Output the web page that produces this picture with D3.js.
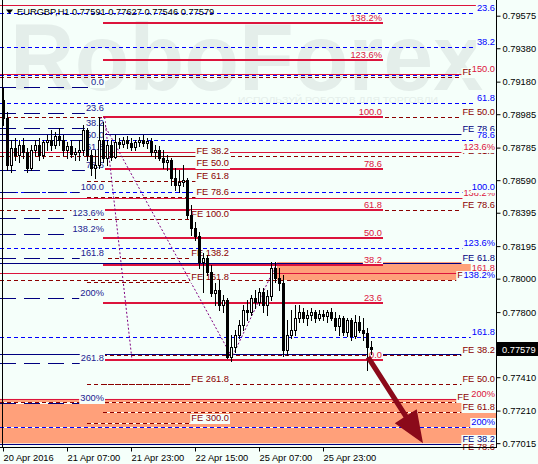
<!DOCTYPE html>
<html><head><meta charset="utf-8">
<script src="https://cdn.jsdelivr.net/npm/d3@7"></script>
<style>
html,body{margin:0;padding:0;background:#f5fffa;}
svg{display:block;}
text{font-family:"Liberation Sans",Arial,sans-serif;}
</style></head><body>
<svg id="c" width="538" height="464"></svg>
<script>
// ---------------- DATA ----------------
const symbol = "EURGBP,H1";
const lastBar = ["0.77591","0.77627","0.77546","0.77579"];
const lastPrice = 0.77579;
const xTickIdx = [0,16,32,48,64,80];
const xTickLabels = ["20 Apr 2016","21 Apr 07:00","21 Apr 23:00","22 Apr 15:00","25 Apr 07:00","25 Apr 23:00"];
const yTickLabels = ["0.79575","0.79380","0.79180","0.78985","0.78785","0.78590","0.78395","0.78195","0.78000","0.77800","0.77605","0.77410","0.77210","0.77015"];

// H1 candles [open, high, low, close]
const candles = [
[0.79072,0.79144,0.78922,0.78964],[0.78964,0.79000,0.78652,0.78682],[0.78682,0.78832,0.78640,0.78784],
[0.78784,0.78844,0.78712,0.78742],[0.78742,0.78832,0.78700,0.78802],[0.78802,0.78844,0.78724,0.78760],
[0.78760,0.78784,0.78640,0.78664],[0.78664,0.78802,0.78652,0.78772],[0.78772,0.78832,0.78742,0.78802],
[0.78802,0.78844,0.78712,0.78742],[0.78742,0.78832,0.78724,0.78820],[0.78820,0.78862,0.78772,0.78832],
[0.78832,0.78892,0.78772,0.78802],[0.78802,0.78880,0.78784,0.78856],[0.78856,0.78904,0.78802,0.78832],
[0.78832,0.78862,0.78742,0.78772],[0.78772,0.78820,0.78724,0.78796],[0.78796,0.78832,0.78730,0.78748],
[0.78748,0.78784,0.78712,0.78760],[0.78760,0.78832,0.78712,0.78772],[0.78772,0.78922,0.78742,0.78892],
[0.78892,0.78904,0.78712,0.78742],[0.78742,0.78772,0.78622,0.78664],[0.78664,0.78772,0.78604,0.78682],
[0.78682,0.78970,0.78664,0.78832],[0.78832,0.78940,0.78700,0.78724],[0.78724,0.78832,0.78682,0.78802],
[0.78802,0.78832,0.78712,0.78730],[0.78730,0.78862,0.78724,0.78820],[0.78820,0.78844,0.78784,0.78808],
[0.78808,0.78850,0.78790,0.78832],[0.78832,0.78856,0.78784,0.78814],[0.78814,0.78844,0.78772,0.78790],
[0.78790,0.78832,0.78772,0.78820],[0.78820,0.78850,0.78796,0.78832],[0.78832,0.78862,0.78796,0.78814],
[0.78814,0.78844,0.78784,0.78826],[0.78826,0.78844,0.78742,0.78760],[0.78760,0.78802,0.78724,0.78772],
[0.78772,0.78796,0.78712,0.78724],[0.78724,0.78772,0.78664,0.78700],[0.78700,0.78742,0.78652,0.78712],
[0.78712,0.78724,0.78562,0.78604],[0.78604,0.78664,0.78532,0.78562],[0.78562,0.78652,0.78520,0.78580],
[0.78580,0.78682,0.78556,0.78592],[0.78592,0.78604,0.78364,0.78382],[0.78382,0.78442,0.78262,0.78304],
[0.78304,0.78340,0.78232,0.78256],[0.78256,0.78280,0.78064,0.78100],[0.78100,0.78154,0.77920,0.78124],
[0.78124,0.78142,0.78022,0.78040],[0.78040,0.78082,0.77896,0.77914],[0.77914,0.77974,0.77842,0.77932],
[0.77932,0.77992,0.77812,0.77842],[0.77842,0.77902,0.77800,0.77872],[0.77872,0.77884,0.77524,0.77530],
[0.77530,0.77662,0.77506,0.77590],[0.77590,0.77692,0.77560,0.77662],[0.77662,0.77752,0.77644,0.77722],
[0.77722,0.77842,0.77692,0.77812],[0.77812,0.77872,0.77752,0.77800],[0.77800,0.77902,0.77782,0.77884],
[0.77884,0.77932,0.77824,0.77860],[0.77860,0.77944,0.77842,0.77920],[0.77920,0.77944,0.77800,0.77842],
[0.77842,0.77932,0.77782,0.77896],[0.77896,0.78100,0.77872,0.78064],[0.78064,0.78100,0.77980,0.78004],
[0.78004,0.78064,0.77932,0.77974],[0.77974,0.78022,0.77536,0.77572],[0.77572,0.77752,0.77542,0.77662],
[0.77662,0.77812,0.77644,0.77692],[0.77692,0.77842,0.77662,0.77764],[0.77764,0.77842,0.77740,0.77800],
[0.77800,0.77824,0.77740,0.77764],[0.77764,0.77812,0.77722,0.77782],[0.77782,0.77824,0.77752,0.77800],
[0.77800,0.77812,0.77740,0.77764],[0.77764,0.77812,0.77752,0.77788],[0.77788,0.77812,0.77752,0.77776],
[0.77776,0.77812,0.77740,0.77800],[0.77800,0.77824,0.77752,0.77764],[0.77764,0.77800,0.77692,0.77716],
[0.77716,0.77782,0.77662,0.77764],[0.77764,0.77776,0.77662,0.77680],[0.77680,0.77764,0.77656,0.77752],
[0.77752,0.77764,0.77632,0.77656],[0.77656,0.77782,0.77644,0.77740],[0.77740,0.77776,0.77680,0.77692],
[0.77692,0.77764,0.77632,0.77674],[0.77674,0.77704,0.77452,0.77590],[0.77591,0.77627,0.77546,0.77579]
];

// Fibonacci level sets (price values + level labels)
const blueFibValues = [0.79591,0.79388,0.79217,0.79052,0.78831,0.78519,0.78184,0.77992,0.77651,0.77112];
const blueFibLabels = ["23.6","38.2","","61.8","78.6","100.0","123.6%","138.2%","161.8","200%"];

const redThinValues = [0.79639,0.79226,0.78759,0.78483,0.78034,0.77280];
const redThinLabels = ["","150.0","123.6%","138.2%","161.8","200%"];

const redThickValues = [0.79531,0.79310,0.78968,0.78657,0.78412,0.78241,0.78080,0.77855,0.77513];
const redThickLabels = ["138.2%","123.6%","100.0","78.6","61.8","50.0","38.2","23.6","0.0"];

const leftFibValues = [0.79148,0.78995,0.78903,0.78831,0.78759,0.78651,0.78519,0.78364,0.78268,0.78124,0.77882,0.77495,0.77256];
const leftFibLabels = ["0.0","23.6","38.2","50.0","61.8","78.6","100.0","123.6%","138.2%","161.8","200%","261.8","300%"];

const navyFeValues = [0.78867,0.78094,0.77549,0.77007];
const navyFeLabels = ["FE 78.6","FE 61.8","FE 50.0","FE 38.2"];

const darkFeValues = [0.79205,0.78968,0.78735,0.78412,0.77992,0.77262];
const darkFeLabels = ["FE 38.2","FE 50.0","FE 61.8","FE 78.6","FE 100.0","FE 138.2"];

const lowFeValues = [0.77543,0.77370,0.77202,0.76962];
const lowFeLabels = ["FE 38.2","FE 50.0","FE 61.8","FE 78.6"];

const midFeValues = [0.78735,0.78660,0.78585,0.78489,0.78358,0.78124,0.77980,0.77370,0.77136];
const midFeLabels = ["FE 38.2","FE 50.0","FE 61.8","FE 78.6","FE 100.0","FE 138.2","FE 161.8","FE 261.8","FE 300.0"];

// zones [startBar, top price, bottom price]
const zones = [[68.5,0.78100,0.77992],[-0.75,0.77280,0.77014]];
// dotted trend lines [bar, price]
const trendLines = [
  [[25.4,0.78968],[32.25,0.77513]],
  [[24.25,0.78968],[57.25,0.77530],[68.5,0.78094]]
];
// forecast arrow [bar, price]
const arrowPts = [[91.25,0.77530],[105,0.77015]];

// ---------------- DRAW ----------------
const BG = "#f5fffa";
const PR = 497, PB = 448;
const FS = 9.3;
const svg = d3.select("#c");
const x = d3.scaleLinear().domain([-0.75, 123.5]).range([0, PR]);
const y = d3.scaleLinear().domain([0.76986, 0.79669]).range([PB, 0]);
const XL = -0.75, XR = 123.5;

svg.append("rect").attr("width",538).attr("height",464).attr("fill",BG);

const defs = svg.append("defs");
defs.append("clipPath").attr("id","plot").append("rect").attr("x",0).attr("y",0).attr("width",PR).attr("height",PB+3);
const zc = defs.append("clipPath").attr("id","zoneclip");
zones.forEach(z => zc.append("rect").attr("x",x(z[0])).attr("y",y(z[1])).attr("width",x(XR)-x(z[0])).attr("height",y(z[2])-y(z[1])));

// watermark
svg.append("text").attr("x",10).attr("y",90).attr("font-size",95).attr("font-weight","bold")
  .attr("fill","#e4eeea").attr("textLength",473).attr("lengthAdjust","spacingAndGlyphs").text("RoboForex");
svg.append("text").attr("x",238).attr("y",103).attr("font-size",9).attr("fill","#e4eeea")
  .attr("textLength",200).attr("lengthAdjust","spacingAndGlyphs").text("ИСПОЛЬЗУЙ РОБОТОВ ДЛЯ ТОРГОВЛИ");

const plot = svg.append("g").attr("clip-path","url(#plot)");

// zones
plot.selectAll("rect.zone").data(zones).join("rect").attr("class","zone")
  .attr("x",d=>x(d[0])).attr("y",d=>y(d[1])).attr("width",d=>x(XR)-x(d[0])).attr("height",d=>y(d[2])-y(d[1]))
  .attr("fill","#ffa07a");

const under = plot.append("g").attr("clip-path","url(#zoneclip)");
const dashedG = plot.append("g");
const solidG = plot.append("g");

function crisp(v, w){ const p = Math.round(y(v)); return (w % 2 === 1) ? p + 0.5 : p; }

function levels(values, t0, t1, color, width, dash){
  const g = dash ? dashedG : solidG;
  values.forEach(v => {
    const yy = crisp(v, width);
    const x0 = Math.max(0, x(t0)), x1 = Math.min(PR, x(t1));
    if (dash) under.append("line").attr("x1",x0).attr("x2",x1).attr("y1",yy).attr("y2",yy)
      .attr("stroke",BG).attr("stroke-width",width);
    g.append("line").attr("x1",x0).attr("x2",x1).attr("y1",yy).attr("y2",yy)
      .attr("stroke",color).attr("stroke-width",width).attr("stroke-dasharray",dash || null);
  });
}

levels(blueFibValues, XL, XR, "#0000ff", 1, "4,3");
levels(darkFeValues, XL, XR, "#8b0000", 1, "4,3");
levels(lowFeValues, 25, XR, "#8b0000", 1, "4,3");
levels(midFeValues, 21, 56.75, "#8b0000", 1, "4,3");
levels(leftFibValues, XL, 25.5, "#000080", 1, "16,8");
levels(redThinValues, XL, XR, "#dc143c", 1, null);
levels(navyFeValues, XL, XR, "#000080", 1, null);
levels(redThickValues, 25, 95, "#dc143c", 2, null);

const labG = svg.append("g");
function labels(values, texts, t1, color, h){
  values.forEach((v,i) => {
    if (!texts[i]) return;
    const xr = Math.min(x(t1), PR - 1) - 1;
    const by = Math.round(y(v)) - 2;
    const t = labG.append("text").attr("x",xr).attr("y",by).attr("text-anchor","end")
      .attr("font-size",FS).attr("fill",color).text(texts[i]);
    const w = t.node().getComputedTextLength();
    labG.insert("rect", () => t.node()).attr("x",xr-w-1).attr("y",by-7).attr("width",w+2).attr("height",h).attr("fill",BG);
  });
}
labels(darkFeValues, darkFeLabels, XR, "#8b0000", 10);
labels(navyFeValues, navyFeLabels, XR, "#000080", 10);
labels(lowFeValues, lowFeLabels, XR, "#8b0000", 10);
labels(midFeValues, midFeLabels, 56.75, "#8b0000", 10);
labels(leftFibValues, leftFibLabels, 25.5, "#1a1a90", 10);
labels(redThinValues, redThinLabels, XR, "#dc143c", 10);
labels(blueFibValues, blueFibLabels, XR, "#0000ff", 10);
labels(redThickValues, redThickLabels, 95, "#dc143c", 8);

// candles
const cg = svg.append("g").attr("clip-path","url(#plot)");
candles.forEach((c,i) => {
  const [o,h,l,cl] = c;
  const cx = Math.round(x(i));
  cg.append("line").attr("x1",cx+0.5).attr("x2",cx+0.5).attr("y1",Math.round(y(h))).attr("y2",Math.round(y(l))+1)
    .attr("stroke","#000").attr("stroke-width",1);
  const top = Math.round(y(Math.max(o,cl))), bot = Math.round(y(Math.min(o,cl)));
  cg.append("rect").attr("x",cx-0.5).attr("y",top+0.5).attr("width",2).attr("height",Math.max(0,bot-top))
    .attr("fill", cl >= o ? "#ffffff" : "#000000").attr("stroke","#000").attr("stroke-width",1);
});

// dotted trend lines
const line = d3.line().x(d=>x(d[0])).y(d=>y(d[1]));
trendLines.forEach(tl => plot.append("path").attr("d",line(tl)).attr("fill","none")
  .attr("stroke","#800080").attr("stroke-width",1).attr("stroke-dasharray","2,2"));

// arrow
(function(){
  const x0 = x(arrowPts[0][0]), y0 = y(arrowPts[0][1]), x1 = x(arrowPts[1][0]), y1 = y(arrowPts[1][1]);
  const dx = x1-x0, dy = y1-y0, L = Math.hypot(dx,dy), ux = dx/L, uy = dy/L, px = -uy, py = ux;
  const hl = 32, hw = 13, sw = 2.6;
  const bx = x1-ux*hl, by = y1-uy*hl;
  const pts = [[x0+px*sw,y0+py*sw],[bx+px*sw,by+py*sw],[bx+px*hw,by+py*hw],[x1,y1],
               [bx-px*hw,by-py*hw],[bx-px*sw,by-py*sw],[x0-px*sw,y0-py*sw]];
  svg.append("path").attr("d","M"+pts.map(p=>p.join(",")).join("L")+"Z").attr("fill","#8b0a1a");
})();

// frame
svg.append("line").attr("x1",PR-0.5).attr("x2",PR-0.5).attr("y1",0).attr("y2",PB).attr("stroke","#000");
svg.append("line").attr("x1",0).attr("x2",PR).attr("y1",PB-0.5).attr("y2",PB-0.5).attr("stroke","#000");
svg.append("line").attr("x1",2.5).attr("x2",2.5).attr("y1",0).attr("y2",PB).attr("stroke","#000");

// axes
const gy = svg.append("g").attr("transform",`translate(${PR-0.5},0)`)
  .call(d3.axisRight(y).tickValues(yTickLabels.map(Number)).tickFormat((d,i)=>yTickLabels[i]).tickSize(4).tickPadding(2));
gy.select(".domain").remove();
gy.selectAll("text").attr("font-family","Liberation Sans, Arial, sans-serif").attr("font-size",FS).attr("fill","#000");
gy.selectAll("line").attr("stroke","#000");

const gx = svg.append("g").attr("transform",`translate(0,${PB-0.5})`)
  .call(d3.axisBottom(x).tickValues(xTickIdx).tickFormat((d,i)=>xTickLabels[i]).tickSize(4).tickPadding(3));
gx.select(".domain").remove();
gx.selectAll("text").attr("font-family","Liberation Sans, Arial, sans-serif").attr("font-size",FS).attr("fill","#000").attr("text-anchor","start");
gx.selectAll("line").attr("stroke","#000");

// current price box
const py0 = Math.round(y(lastPrice));
svg.append("rect").attr("x",PR).attr("y",py0-7).attr("width",538-PR).attr("height",14).attr("fill","#000");
svg.append("text").attr("x",PR+5).attr("y",py0+3.5).attr("font-size",FS).attr("fill","#fff").text(lastPrice.toFixed(5));

// title
svg.append("path").attr("d","M6,9.5L13,9.5L9.5,14Z").attr("fill","#000");
svg.append("text").attr("x",17).attr("y",15).attr("font-size",FS).attr("fill","#000")
  .text(symbol + "  " + lastBar.join(" "));
</script>
</body></html>
